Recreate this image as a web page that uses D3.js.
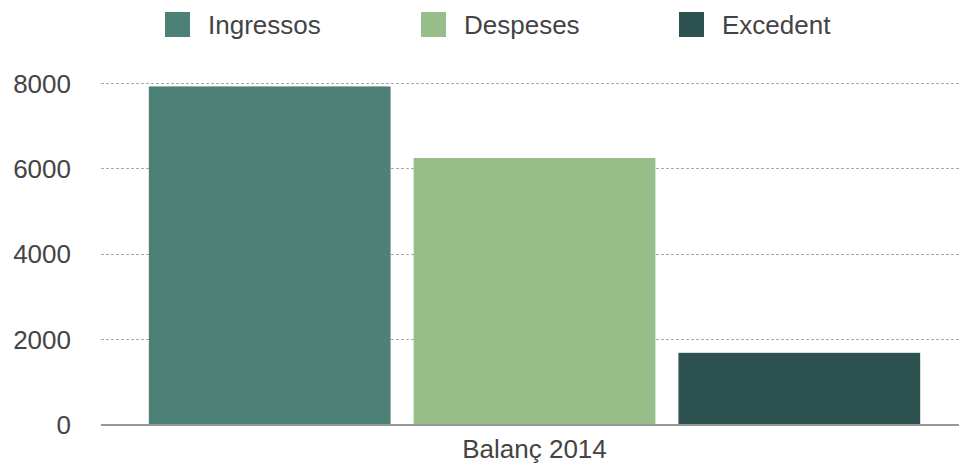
<!DOCTYPE html>
<html>
<head>
<meta charset="utf-8">
<script src="https://cdn.jsdelivr.net/npm/d3@7"></script>
<style>
  body { margin: 0; background: #fff; }
  svg { display: block; font-family: "Liberation Sans", Helvetica, Arial, sans-serif; }
</style>
</head>
<body>
<svg id="chart" width="959" height="465"></svg>
<script>
// data
const categories = ["Balanç 2014"];
const series = ["Ingressos", "Despeses", "Excedent"];
const values = [7920, 6240, 1670];
const colors = ["#4d8077", "#97bd89", "#2e5250"];
const yTicks = [0, 2000, 4000, 6000, 8000];

const width = 959, height = 465;
const margin = {top: 83, right: 0, bottom: 41, left: 101};

const svg = d3.select("#chart");

const y = d3.scaleLinear()
  .domain([0, 8000])
  .range([height - margin.bottom, margin.top]);

const x0 = d3.scaleBand()
  .domain(categories)
  .range([margin.left, 968])
  .paddingInner(0)
  .paddingOuter(0.062);

const x1 = d3.scaleBand()
  .domain(series)
  .range([0, x0.bandwidth()])
  .paddingInner(0.087)
  .paddingOuter(0);

//Gridlines (dashed)
svg.append("g")
  .selectAll("line")
  .data(yTicks.filter(d => d > 0))
  .join("line")
    .attr("x1", margin.left)
    .attr("x2", width)
    .attr("y1", d => Math.round(y(d)) + 0.5)
    .attr("y2", d => Math.round(y(d)) + 0.5)
    .attr("stroke", "#aaa")
    .attr("stroke-dasharray", "3,2");

//Y tick labels
svg.append("g")
  .selectAll("text")
  .data(yTicks)
  .join("text")
    .attr("x", 71)
    .attr("y", d => y(d))
    .attr("dy", "0.38em")
    .attr("text-anchor", "end")
    .attr("fill", "#444")
    .style("font-size", "26px")
    .text(d => d);

//Bars
svg.append("g")
  .selectAll("rect")
  .data(series.map((s, i) => ({name: s, value: values[i], color: colors[i], cat: categories[0]})))
  .join("rect")
    .attr("x", d => x0(d.cat) + x1(d.name))
    .attr("y", d => y(d.value))
    .attr("width", x1.bandwidth())
    .attr("height", d => y(0) - y(d.value))
    .attr("fill", d => d.color);

//Baseline
svg.append("line")
  .attr("x1", margin.left)
  .attr("x2", width)
  .attr("y1", y(0) + 1)
  .attr("y2", y(0) + 1)
  .attr("stroke", "#999")
  .attr("stroke-width", 2);

//X category label
svg.append("g")
  .selectAll("text")
  .data(categories)
  .join("text")
    .attr("x", d => x0(d) + x0.bandwidth() / 2)
    .attr("y", 458)
    .attr("text-anchor", "middle")
    .attr("fill", "#444")
    .style("font-size", "26px")
    .text(d => d);

//Legend
const legendX = [165, 421, 679];
const legend = svg.append("g")
  .selectAll("g")
  .data(series)
  .join("g")
    .attr("transform", (d, i) => `translate(${legendX[i]}, 12)`);

legend.append("rect")
  .attr("width", 25)
  .attr("height", 25)
  .attr("fill", (d, i) => colors[i]);

legend.append("text")
  .attr("x", 43)
  .attr("y", 12.5)
  .attr("dy", "0.36em")
  .attr("fill", "#444")
  .style("font-size", "26px")
  .text(d => d);
</script>
</body>
</html>
